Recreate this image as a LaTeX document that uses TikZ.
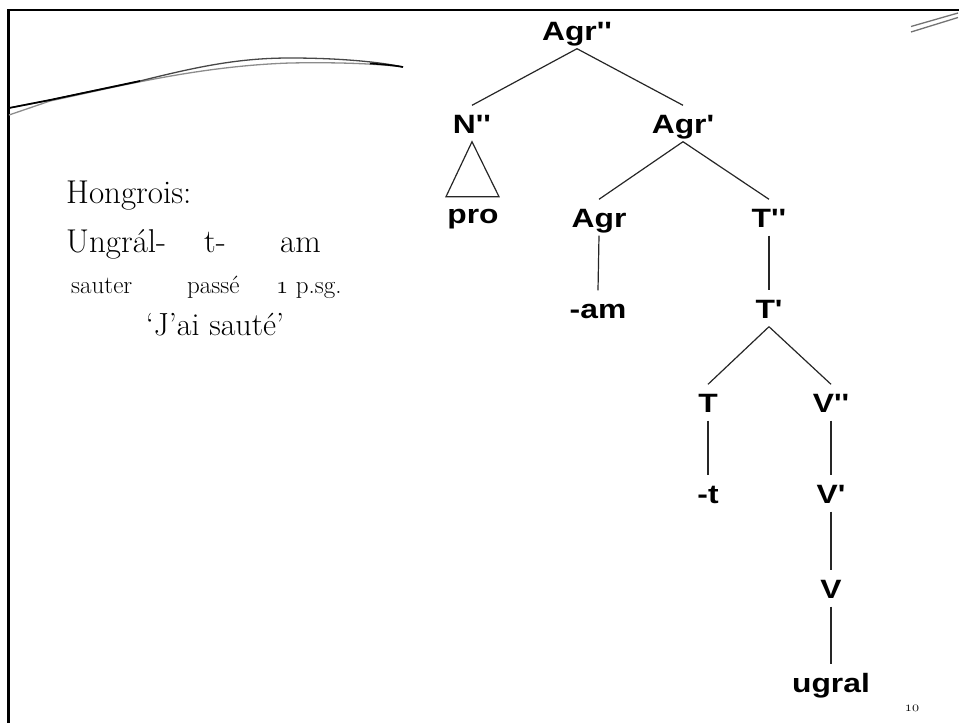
\documentclass[tikz,border=0pt]{standalone}
\usepackage{fontspec}
\newfontfamily\treefont[FakeStretch=1.2,Ligatures=TeXOff]{Liberation Sans}
\begin{document}
\begin{tikzpicture}[x=1pt,y=-1pt,
  tnode/.style={font=\treefont\bfseries\fontsize{26.5}{30}\selectfont,
    text height=19pt, text depth=0pt, inner xsep=2pt, inner ysep=8.5pt, anchor=base},
  edge/.style={line width=1.2pt, black!85},
  bigtxt/.style={font=\fontsize{33}{38}\selectfont, inner sep=0pt, anchor=base west},
  glosstxt/.style={font=\fontsize{25}{30}\selectfont, inner sep=0pt, anchor=base west},
  frameline/.style={line width=2.8pt, black},
  swoosh/.style={line width=1.3pt}
]
\useasboundingbox (0,0) rectangle (959,723);
% frame
\draw[frameline] (8.5,723) -- (8.5,10) -- (959,10);
% decorative swooshes
\draw[swoosh, black!45] (9,115) -- (50,101) .. controls (120,86) and (200,66) .. (290,63) .. controls (340,62) and (380,64) .. (403,67);
\draw[swoosh, black!72] (9,108) -- (50,100) -- (140,81) .. controls (200,66) and (240,58) .. (290,58) .. controls (340,58) and (380,62) .. (403,67);
\draw[line width=1.7pt, black] (9,108) -- (50,100) -- (140,81);
\draw[line width=1.6pt, black] (370,63.5) .. controls (385,64.5) and (395,65.5) .. (403,67);
\draw[line width=1.3pt, black!55] (911,26.5) -- (958,13);
\draw[line width=1.3pt, black!55] (911,32) -- (958,17.5);

% left text
\node[bigtxt] (hong) at (66,203) {Hongrois:};
\node[bigtxt] (w1) at (66,252) {Ungrál-};
\node[bigtxt] (w2) at (204,252) {t-};
\node[bigtxt] (w3) at (280,252) {am};
\node[glosstxt] (g1) at (71,293) {sauter};
\node[glosstxt] (g2) at (187,293) {passé};
\node[glosstxt] (g3) at (276,293) {$\mathnormal{1}$ p.sg.};
\node[font=\fontsize{32}{38}\selectfont, inner sep=0pt, anchor=base] (trans) at (215,335) {‘J’ai sauté’};
\node[font=\fontsize{14}{16}\selectfont, inner sep=0pt, anchor=base] (pg) at (912,711) {$\mathnormal{10}$};

% tree
\node[tnode] (agrpp) at (577,40) {Agr''};
\node[tnode] (npp) at (472,133) {N''};
\node[tnode] (agrp) at (683,133) {Agr'};
\node[tnode] (pro) at (473,223) {pro};
\node[tnode] (agr) at (599,227) {Agr};
\node[tnode] (tpp) at (769,227) {T''};
\node[tnode] (am) at (598,318) {-am};
\node[tnode] (tp) at (769,318) {T'};
\node[tnode] (t) at (708,412) {T};
\node[tnode] (vpp) at (831,412) {V''};
\node[tnode] (tt) at (708,503) {-t};
\node[tnode] (vp) at (831,503) {V'};
\node[tnode] (v) at (831,598) {V};
\node[tnode] (ugral) at (831,692) {ugral};

\draw[edge] (agrpp.south) -- (npp.north);
\draw[edge] (agrpp.south) -- (agrp.north);
\draw[edge] (npp.south) -- ++(-26,55) -- ++(53,0) -- cycle;
\draw[edge] (agrp.south) -- (agr.north);
\draw[edge] (agrp.south) -- (tpp.north);
\draw[edge] (agr.south) -- (am.north);
\draw[edge] (tpp.south) -- (tp.north);
\draw[edge] (tp.south) -- (t.north);
\draw[edge] (tp.south) -- (vpp.north);
\draw[edge] (t.south) -- (tt.north);
\draw[edge] (vpp.south) -- (vp.north);
\draw[edge] (vp.south) -- (v.north);
\draw[edge] (v.south) -- (ugral.north);
\end{tikzpicture}
\end{document}
